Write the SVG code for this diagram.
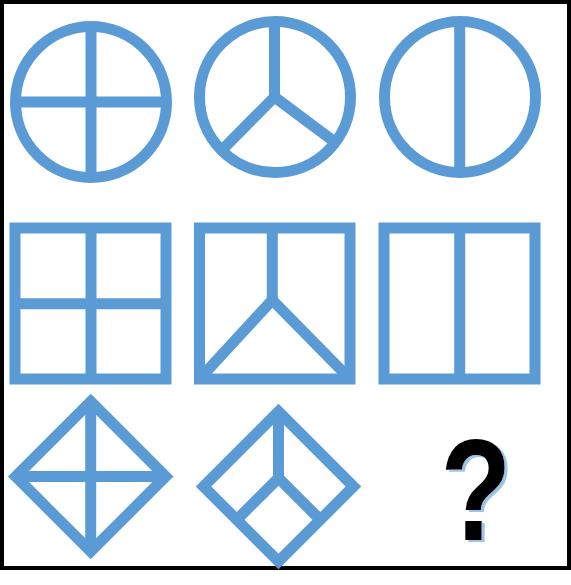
<svg xmlns="http://www.w3.org/2000/svg" width="571" height="585" viewBox="0 0 571 585">
<style>
.s{fill:none;stroke:#5B9BD5;stroke-width:11;stroke-linejoin:miter;stroke-linecap:butt}
.q{font-family:"Liberation Sans",Arial,sans-serif;font-weight:bold;font-size:145px;text-anchor:middle}
</style>
<defs>
<filter id="shadow" x="-20%" y="-20%" width="150%" height="150%">
<feFlood flood-color="#9DC3E6" result="c"/>
<feComposite in="c" in2="SourceAlpha" operator="in" result="sh"/>
<feOffset in="sh" dx="2.5" dy="2" result="off"/>
<feMerge><feMergeNode in="off"/><feMergeNode in="SourceGraphic"/></feMerge>
</filter>
</defs>
<rect x="0" y="0" width="571" height="585" fill="#fff"/>
<rect id="frame" x="2" y="2" width="567" height="566" fill="#fff" stroke="#000" stroke-width="4"/>
<g id="circle-cross">
<circle class="s" cx="91" cy="102" r="75.5"/>
<line class="s" x1="91" y1="26.5" x2="91" y2="177.5"/>
<line class="s" x1="15.5" y1="102" x2="166.5" y2="102"/>
</g>
<g id="circle-y">
<circle class="s" cx="275" cy="97" r="75.5"/>
<line class="s" x1="274.5" y1="21.5" x2="274.5" y2="97"/>
<line class="s" x1="274.5" y1="97" x2="221.6" y2="150.4"/>
<line class="s" x1="274.5" y1="97" x2="335.3" y2="142.4"/>
</g>
<g id="circle-split">
<circle class="s" cx="460" cy="97" r="75.5"/>
<line class="s" x1="459.7" y1="21.5" x2="459.7" y2="172.5"/>
</g>
<g id="square-cross">
<rect class="s" x="15" y="228" width="151" height="151"/>
<line class="s" x1="91" y1="228" x2="91" y2="379"/>
<line class="s" x1="15" y1="303.7" x2="166" y2="303.7"/>
</g>
<g id="square-y">
<rect class="s" x="199.5" y="228" width="150.5" height="151"/>
<line class="s" x1="272.3" y1="228" x2="272.3" y2="300"/>
<line class="s" x1="272.3" y1="300" x2="199.5" y2="379"/>
<line class="s" x1="272.3" y1="300" x2="350" y2="379"/>
</g>
<g id="square-split">
<rect class="s" x="384" y="228" width="151" height="151"/>
<line class="s" x1="459.7" y1="228" x2="459.7" y2="379"/>
</g>
<g id="diamond-cross">
<polygon class="s" points="90.7,401.5 165.7,476.5 90.7,551.5 15.7,476.5"/>
<line class="s" x1="90.7" y1="401.5" x2="90.7" y2="551.5"/>
<line class="s" x1="15.7" y1="476.4" x2="165.7" y2="476.4"/>
</g>
<g id="diamond-y">
<polygon class="s" points="278.5,411.5 353.5,486.5 278.5,561.5 203.5,486.5"/>
<line class="s" x1="278.5" y1="411.5" x2="278.5" y2="478"/>
<polyline class="s" points="236.75,519.75 278.5,478 320.25,519.75"/>
</g>
<g id="question" filter="url(#shadow)">
<text class="q" fill="#000" transform="translate(476,540) scale(0.8,1)">?</text>
</g>
</svg>
